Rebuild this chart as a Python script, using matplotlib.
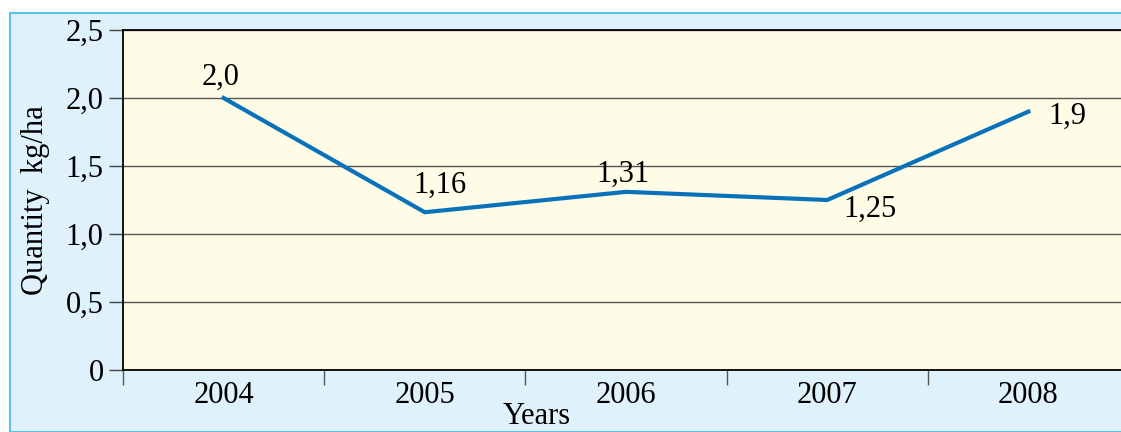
import matplotlib.pyplot as plt
from matplotlib.patches import Rectangle

years = ['2004', '2005', '2006', '2007', '2008']
quantity = [2.0, 1.16, 1.31, 1.25, 1.9]
value_labels = ['2,0', '1,16', '1,31', '1,25', '1,9']
y_ticks = [0, 0.5, 1.0, 1.5, 2.0, 2.5]
y_ticklabels = ['0', '0,5', '1,0', '1,5', '2,0', '2,5']

plt.rcParams['font.family'] = ['Liberation Serif', 'DejaVu Serif']
fs = 22

fig = plt.figure(figsize=(11.21, 4.32), dpi=100)
W, H = 1121, 432

# light blue panel behind the chart
fig.patches.append(Rectangle((10 / W, 0), 1, 1 - 13 / H, transform=fig.transFigure,
                             facecolor='#dff1fb', edgecolor='#5cc0ef', linewidth=1.5, zorder=-1))

ax = fig.add_axes([123 / W, 62 / H, (1129 - 123) / W, 340 / H])
ax.set_zorder(1)
ax.set_facecolor('#fefce6')

x = list(range(len(years)))
ax.plot(x, quantity, color='#0a72ba', linewidth=3, solid_joinstyle='miter', zorder=3)

# label offsets in pixels (dx, dy)
offsets = [(-3, 21), (15, 27), (-3, 18), (43, -9), (39, -5)]
for xi, yi, lab, (dx, dy) in zip(x, quantity, value_labels, offsets):
    ax.annotate(lab, (xi, yi), xytext=(dx * 0.72, dy * 0.72), textcoords='offset points',
                ha='center', va='center', fontsize=fs, color='black')

ax.set_xlim(-0.5, len(years) - 0.5)
ax.set_ylim(0, 2.5)
ax.set_yticks(y_ticks)
ax.set_yticklabels(y_ticklabels, fontsize=fs)
ax.tick_params(axis='y', length=10, width=1, color='#444444', pad=4)
ax.yaxis.grid(True, color='#555555', linewidth=1)
ax.set_axisbelow(True)

ax.set_xticks([i - 0.5 for i in range(len(years) + 1)])
ax.set_xticklabels([])
ax.set_xticks(x, minor=True)
ax.set_xticklabels(years, minor=True, fontsize=fs)
ax.tick_params(axis='x', which='major', length=11, width=1, color='#555555')
ax.tick_params(axis='x', which='minor', length=0, pad=8)

for s in ['left', 'bottom', 'top']:
    ax.spines[s].set_color('black')
    ax.spines[s].set_linewidth(1.3)
ax.spines['right'].set_visible(False)

ax.set_ylabel('Quantity  kg/ha', fontsize=fs)
ax.yaxis.set_label_coords((50 - 123) / 1006, 0.5)
ax.set_xlabel('Years', fontsize=fs, va='center')
ax.xaxis.set_label_coords((537 - 123) / 1006, (15 - 62) / 340)

fig.savefig('out.png', dpi=100)
